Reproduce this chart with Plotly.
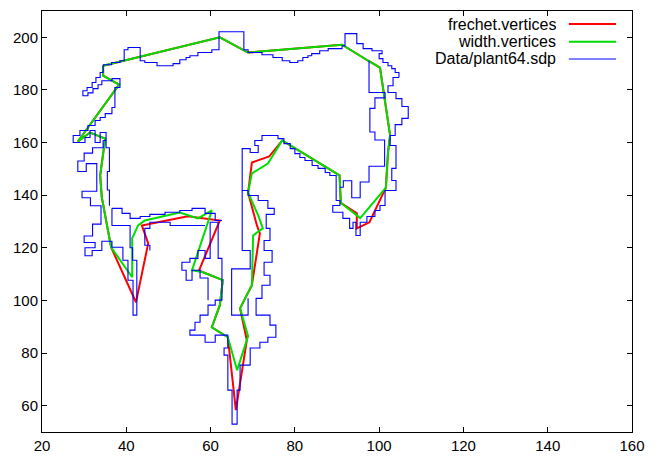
import plotly.graph_objects as go

# ---------------- axes ----------------
x_range = [20, 160]
y_range = [50, 210]
x_ticks = [20, 40, 60, 80, 100, 120, 140, 160]
y_ticks = [60, 80, 100, 120, 140, 160, 180, 200]

legend_labels = ["frechet.vertices", "width.vertices", "Data/plant64.sdp"]

# ---------------- width.vertices (green) ----------------
width_vertices = [(34.5, 189.2), (62.2, 200.0), (68.9, 194.2), (91.2, 197.2), (97.4, 191.1),
                  (100.2, 188.5), (102.6, 162.7), (102.1, 156.2), (101.6, 142.9), (95.5, 131.3),
                  (90.9, 137.1), (90.6, 147.5), (77.0, 160.8), (73.6, 152.0), (69.8, 148.3),
                  (68.9, 141.0), (71.3, 132.3), (72.4, 127.4), (70.1, 124.7), (69.8, 105.8),
                  (67.0, 97.0), (68.9, 86.4), (66.3, 73.5), (64.1, 86.0), (60.3, 89.8),
                  (62.2, 98.2), (62.9, 107.7), (58.2, 110.7), (55.6, 111.5), (60.3, 134.2),
                  (57.0, 131.2), (52.7, 133.4), (44.4, 130.4), (42.8, 128.5), (41.4, 123.6),
                  (41.4, 108.8), (36.4, 120.2), (35.0, 132.3), (34.2, 139.1), (33.8, 147.5),
                  (35.0, 161.5), (31.4, 163.8), (28.5, 160.4), (38.3, 182.0), (34.5, 185.4),
                  (34.5, 189.2)]

# ---------------- frechet.vertices (red) ----------------
frechet_vertices = [(34.5, 189.2), (62.2, 200.0), (68.9, 194.2), (91.2, 197.2), (97.4, 191.1),
                    (100.2, 188.5), (102.6, 162.7), (102.1, 156.2), (101.6, 142.9), (97.7, 129.7),
                    (94.7, 127.4), (94.7, 133.1), (90.9, 137.1), (90.6, 147.5), (77.0, 160.8),
                    (73.9, 154.7), (69.8, 152.4), (68.9, 141.0), (71.0, 128.5), (71.7, 125.5),
                    (69.8, 105.8), (67.0, 97.0), (68.6, 84.9), (66.0, 58.3), (64.1, 86.0),
                    (60.3, 89.8), (62.2, 98.2), (62.9, 107.7), (58.2, 110.7), (57.3, 111.5),
                    (62.2, 130.4), (54.6, 132.0), (43.7, 128.5), (45.2, 121.7), (42.3, 99.3),
                    (36.4, 120.2), (35.0, 132.3), (34.2, 139.1), (33.8, 147.5), (35.0, 161.5),
                    (31.4, 163.8), (28.5, 160.4), (38.3, 182.0), (34.5, 185.4), (34.5, 189.2)]

# ---------------- Data/plant64.sdp (blue outline pieces) ----------------
outline_top = [(34.5, 189.6), (36.5, 189.6), (36.5, 190.4), (38.5, 190.4), (38.5, 191.1), (39.5, 191.1),
               (39.5, 195.3), (40.4, 195.3), (40.4, 196.1), (43.3, 196.1), (43.3, 191.1), (44.4, 191.1),
               (44.4, 190.4), (47.3, 190.4), (47.3, 189.2), (51.1, 189.2), (51.1, 190.0), (52.7, 190.0),
               (52.7, 191.5), (54.2, 191.5), (54.2, 192.3), (55.1, 192.3), (55.1, 193.0), (57.0, 193.0),
               (57.0, 194.2), (60.3, 194.2), (60.3, 195.3), (62.0, 195.3), (62.0, 202.1), (67.9, 202.1),
               (67.9, 195.3), (68.9, 195.3), (68.9, 194.2), (72.2, 194.2), (72.2, 193.4), (74.8, 193.4),
               (74.8, 192.3), (77.0, 192.3), (77.0, 191.1), (78.8, 191.1), (78.8, 190.4), (80.7, 190.4),
               (80.7, 191.1), (81.9, 191.1), (81.9, 192.3), (83.1, 192.3), (83.1, 193.0), (84.0, 193.0),
               (84.0, 193.8), (85.9, 193.8), (85.9, 194.9), (87.9, 194.9), (87.9, 195.7), (91.2, 195.7),
               (91.2, 196.8), (91.9, 196.8), (91.9, 201.4), (94.7, 201.4), (94.7, 197.6), (96.2, 197.6),
               (96.2, 195.7), (98.3, 195.7), (98.3, 194.9), (100.7, 194.9), (100.7, 193.8), (100.0, 193.8),
               (100.0, 191.9), (100.9, 191.9), (100.9, 190.4), (102.1, 190.4), (102.1, 189.2), (103.0, 189.2),
               (103.0, 188.1), (103.8, 188.1), (103.8, 186.6), (104.7, 186.6), (104.7, 184.7)]

outline_right = [(104.7, 184.7), (103.3, 184.7), (103.3, 181.6), (102.1, 181.6), (102.1, 179.0), (104.0, 179.0),
                 (104.0, 176.7), (105.4, 176.7), (105.4, 173.7), (106.9, 173.7), (106.9, 169.2), (105.4, 169.2),
                 (105.4, 166.8), (103.8, 166.8), (103.8, 162.7), (102.6, 162.7), (102.6, 158.9), (104.0, 158.9),
                 (104.0, 150.2), (103.0, 150.2), (103.0, 145.6), (104.0, 145.6), (104.0, 141.8), (101.4, 141.8),
                 (101.4, 136.1), (100.2, 136.1), (100.2, 134.2), (99.0, 134.2), (99.0, 131.9), (97.1, 131.9),
                 (97.1, 129.7), (95.5, 129.7), (95.5, 124.7), (94.5, 124.7), (94.5, 129.7), (93.8, 129.7),
                 (93.8, 127.4), (93.0, 127.4), (93.0, 131.2), (91.4, 131.2), (91.4, 133.5), (89.0, 133.5),
                 (89.0, 136.1), (90.7, 136.1), (90.7, 138.0), (89.8, 138.0), (89.8, 146.4)]

outline_inner_right = [(97.6, 191.1), (97.6, 179.0), (101.4, 179.0), (101.4, 177.0), (99.0, 177.0),
                       (99.0, 173.0), (97.8, 173.0), (97.8, 164.0), (99.0, 164.0), (99.0, 161.0),
                       (101.3, 161.0), (101.3, 151.0), (97.6, 151.0), (97.6, 145.0), (95.5, 145.0),
                       (95.5, 139.0), (93.5, 139.0), (93.5, 145.5), (91.5, 145.5), (91.5, 143.0),
                       (90.6, 143.0)]

outline_stem = [(89.8, 146.4), (89.8, 147.5), (88.3, 147.5), (88.3, 148.6), (87.2, 148.6), (87.2, 150.2),
                (85.5, 150.2), (85.5, 151.3), (84.1, 151.3), (84.1, 153.2), (82.4, 153.2), (82.4, 154.3),
                (81.2, 154.3), (81.2, 155.8), (80.0, 155.8), (80.0, 157.7), (78.9, 157.7), (78.9, 159.6),
                (77.4, 159.6), (77.4, 161.5), (76.0, 161.5), (76.0, 162.7), (72.2, 162.7), (72.2, 160.8),
                (70.5, 160.8), (70.5, 158.9), (71.3, 158.9), (71.3, 156.2), (69.4, 156.2), (69.4, 157.7),
                (67.5, 157.7), (67.5, 141.8), (68.9, 141.8), (68.9, 139.9), (71.3, 139.9), (71.3, 138.0),
                (73.6, 138.0), (73.6, 135.0), (75.1, 135.0), (75.1, 132.7), (73.2, 132.7), (73.2, 127.4),
                (74.1, 127.4), (74.1, 122.8), (72.7, 122.8), (72.7, 119.0), (74.6, 119.0), (74.6, 114.5),
                (72.7, 114.5), (72.7, 109.6), (74.1, 109.6), (74.1, 105.8), (72.2, 105.8), (72.2, 100.8),
                (70.8, 100.8), (70.8, 94.4), (74.1, 94.4), (74.1, 90.6), (75.5, 90.6), (75.5, 86.0),
                (73.6, 86.0), (73.6, 84.1), (71.7, 84.1), (71.7, 81.9), (69.4, 81.9), (69.4, 75.4),
                (67.0, 75.4), (67.0, 65.9), (66.3, 65.9), (66.3, 53.0), (65.1, 53.0), (65.1, 65.9),
                (64.1, 65.9), (64.1, 79.2), (63.2, 79.2), (63.2, 81.9), (64.1, 81.9), (64.1, 86.8),
                (61.1, 86.8), (61.1, 84.1), (58.7, 84.1), (58.7, 86.8), (55.1, 86.8), (55.1, 88.7),
                (56.3, 88.7), (56.3, 91.7), (57.5, 91.7), (57.5, 94.4), (59.4, 94.4), (59.4, 98.2),
                (61.1, 98.2), (61.1, 100.1), (62.7, 100.1), (62.7, 116.0), (61.8, 116.0), (61.8, 129.7)]

outline_stem_inner = [(67.5, 141.8), (67.5, 119.0), (69.4, 119.0), (69.4, 112.0), (65.0, 112.0),
                      (65.0, 94.4), (68.9, 94.4), (68.9, 100.8)]

outline_arm = [(62.7, 130.4), (61.1, 130.4), (61.1, 133.1), (58.7, 133.1), (58.7, 135.0), (55.6, 135.0),
               (55.6, 134.2), (52.7, 134.2), (52.7, 133.5), (49.2, 133.5), (49.2, 132.7), (45.6, 132.7),
               (45.6, 131.9), (43.3, 131.9), (43.3, 131.2), (40.9, 131.2), (40.9, 133.1), (39.0, 133.1),
               (39.0, 135.0), (36.6, 135.0)]

outline_arm_low = [(61.8, 129.7), (59.9, 129.7), (59.9, 116.0), (58.7, 116.0), (58.7, 119.0), (57.0, 119.0),
                   (57.0, 116.0), (55.1, 116.0), (55.1, 114.5), (53.2, 114.5), (53.2, 111.5), (54.2, 111.5),
                   (54.2, 107.7), (55.6, 107.7), (55.6, 111.5), (57.5, 111.5), (57.5, 108.5), (59.4, 108.5),
                   (59.4, 100.1)]

outline_arm_under = [(58.7, 128.5), (50.4, 128.5), (50.4, 129.7), (45.6, 129.7), (45.6, 127.4), (44.4, 127.4),
                     (44.4, 121.0), (45.6, 121.0), (45.6, 119.0)]

outline_trunk = [(36.6, 135.0), (36.6, 128.5), (40.9, 128.5), (40.9, 120.0), (41.5, 120.0), (41.5, 115.3),
                 (42.5, 115.3), (42.5, 94.4), (41.6, 94.4), (41.6, 107.7), (40.4, 107.7), (40.4, 115.3),
                 (39.2, 115.3), (39.2, 120.2), (36.6, 120.2), (36.6, 122.5), (34.2, 122.5), (34.2, 119.0),
                 (31.9, 119.0), (31.9, 117.0), (30.2, 117.0), (30.2, 120.0), (32.6, 120.0), (32.6, 122.0),
                 (30.0, 122.0), (30.0, 124.5), (32.0, 124.5), (32.0, 129.0), (34.0, 129.0), (34.0, 136.0),
                 (31.5, 136.0), (31.5, 139.0), (29.5, 139.0), (29.5, 141.5), (33.0, 141.5), (33.0, 152.0),
                 (30.5, 152.0), (30.5, 149.0), (28.5, 149.0), (28.5, 153.0), (30.0, 153.0), (30.0, 156.0),
                 (32.0, 156.0), (32.0, 158.0), (34.5, 158.0), (34.5, 160.8)]

outline_trunk_right = [(34.5, 160.8), (35.2, 160.8), (35.2, 158.0), (36.0, 158.0), (36.0, 149.0), (35.5, 149.0),
                       (35.5, 142.0), (36.0, 142.0), (36.0, 136.0)]

outline_lobe = [(34.5, 189.6), (34.5, 186.6), (33.8, 186.6), (33.8, 184.7), (32.8, 184.7), (32.8, 182.8),
                (31.9, 182.8), (31.9, 180.9), (30.7, 180.9), (30.7, 179.7), (29.7, 179.7), (29.7, 177.8),
                (30.9, 177.8), (30.9, 178.9), (32.1, 178.9), (32.1, 180.5), (33.3, 180.5), (33.3, 182.0),
                (34.2, 182.0), (34.2, 183.5), (36.6, 183.5), (36.6, 184.3), (38.5, 184.3), (38.5, 180.9),
                (37.3, 180.9), (37.3, 173.3), (36.6, 173.3), (36.6, 171.0), (35.0, 171.0), (35.0, 169.5),
                (33.8, 169.5), (33.8, 168.4), (32.6, 168.4), (32.6, 166.5), (30.9, 166.5), (30.9, 164.6),
                (29.0, 164.6), (29.0, 162.7), (27.4, 162.7), (27.4, 160.0), (30.2, 160.0), (30.2, 161.9),
                (31.4, 161.9), (31.4, 164.6), (32.6, 164.6), (32.6, 160.0), (33.8, 160.0), (33.8, 163.8),
                (35.2, 163.8), (35.2, 160.8)]

blue_pieces = [outline_top, outline_right, outline_inner_right, outline_stem, outline_stem_inner,
               outline_arm, outline_arm_low, outline_arm_under, outline_trunk, outline_trunk_right,
               outline_lobe]


def unzip(points):
    return [p[0] for p in points], [p[1] for p in points]


bx, by = [], []
for piece in blue_pieces:
    xs, ys = unzip(piece)
    bx += xs + [None]
    by += ys + [None]

fx, fy = unzip(frechet_vertices)
wx, wy = unzip(width_vertices)

RED, GREEN, BLUE = "#ff0000", "#00dd00", "#0000ff"
FONT = "Liberation Sans"

fig = go.Figure()
fig.add_trace(go.Scatter(x=fx, y=fy, mode="lines", line=dict(color=RED, width=2),
                         showlegend=False, hoverinfo="skip"))
fig.add_trace(go.Scatter(x=wx, y=wy, mode="lines", line=dict(color=GREEN, width=2),
                         showlegend=False, hoverinfo="skip"))
fig.add_trace(go.Scatter(x=bx, y=by, mode="lines", line=dict(color=BLUE, width=1.1),
                         connectgaps=False, showlegend=False, hoverinfo="skip"))

axis_common = dict(showgrid=False, zeroline=False, showline=True, linecolor="black", linewidth=1,
                   mirror="ticks", ticks="inside", ticklen=5, tickcolor="black", automargin=False,
                   tickfont=dict(family=FONT, size=15, color="black"))
fig.update_xaxes(range=x_range, tickvals=x_ticks, ticktext=[str(v) for v in x_ticks], **axis_common)
fig.update_yaxes(range=y_range, tickvals=y_ticks, ticktext=[str(v) for v in y_ticks], **axis_common)

# gnuplot-style key: text right-aligned, sample line to its right
key_y = [0.969, 0.927, 0.886]
colors = [RED, GREEN, BLUE]
widths = [2, 2, 1.1]
for lab, yk, c, w in zip(legend_labels, key_y, colors, widths):
    fig.add_annotation(x=0.873, y=yk, xref="paper", yref="paper", text=lab, showarrow=False,
                       xanchor="right", yanchor="middle", borderpad=0,
                       font=dict(family=FONT, size=16, color="black"))
    fig.add_shape(type="line", xref="paper", yref="paper", x0=0.893, x1=0.973, y0=yk, y1=yk,
                  line=dict(color=c, width=w))

fig.update_layout(width=656, height=464, margin=dict(l=42, r=24, t=11, b=32),
                  plot_bgcolor="white", paper_bgcolor="white", showlegend=False)

fig.write_html("out.html", config={"displayModeBar": False, "staticPlot": True},
               post_script="document.body.style.margin='0px';document.body.style.padding='0px';"
                           "document.documentElement.style.overflow='hidden';")
